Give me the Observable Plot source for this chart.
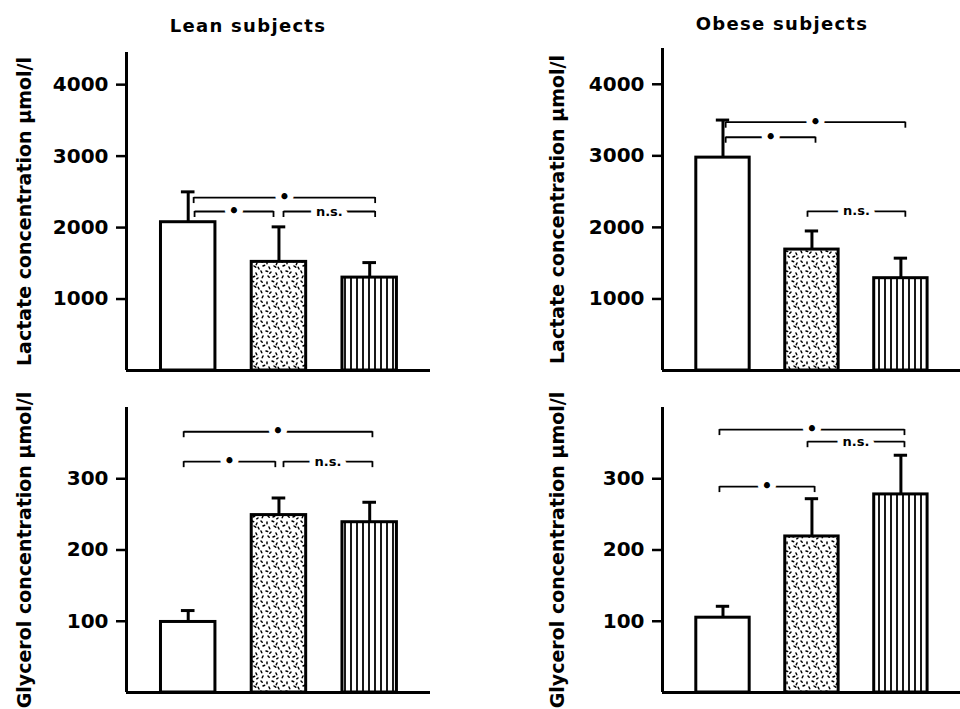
<!DOCTYPE html>
<html>
<head>
<meta charset="utf-8">
<script src="https://cdn.jsdelivr.net/npm/d3@7"></script>
<script src="https://cdn.jsdelivr.net/npm/@observablehq/plot@0.6"></script>
<style>
  html, body { margin: 0; padding: 0; background: #fff; }
  #root { position: relative; width: 960px; height: 709px; overflow: hidden; font-family: "DejaVu Sans", sans-serif; }
  .panel { position: absolute; }
  .title { position: absolute; width: 300px; text-align: center; font: bold 18px "DejaVu Sans", sans-serif; line-height: 18px; letter-spacing: 1.3px; color: #000; }
</style>
</head>
<body>
<svg width="0" height="0" style="position:absolute">
  <defs>
    <pattern id="stripes" patternUnits="userSpaceOnUse" width="6" height="10">
      <rect width="6" height="10" fill="white"/>
      <line x1="3" y1="-1" x2="3" y2="11" stroke="black" stroke-width="1.8"/>
    </pattern>
    <pattern id="speckle" patternUnits="userSpaceOnUse" width="20" height="20">
      <rect width="20" height="20" fill="white"/>
      <path d="M1 1l1.2 1.2M7 2l0 1.7M12 1l1.7 0.8M17 3l-0.8 1.7M3 6l1.7 -0.8M9 7l0.8 1.7M14 6l1.7 1.2M19 9l-0.8 -1.7M1 11l0.8 1.7M6 11l1.7 0.4M11 12l-1.2 1.2M16 13l0.8 1.7M3 16l-0.8 1.7M8 16l1.2 1.2M13 17l1.7 -0.8M18 18l-1.2 0.8"
            stroke="black" stroke-width="1.5" stroke-linecap="round" fill="none"/>
    </pattern>
  </defs>
</svg>
<div id="root">
  <div class="title" style="left:98px; top:17px;">Lean subjects</div>
  <div class="title" style="left:632px; top:15px;">Obese subjects</div>
</div>
<script>
// ---- data ----
const conditions = [1, 2, 3];
const leanLactateMean = [2075, 1520, 1300];
const leanLactateErr = [2500, 2010, 1510];
const obeseLactateMean = [2975, 1690, 1290];
const obeseLactateErr = [3500, 1950, 1570];
const leanGlycerolMean = [99, 249, 239];
const leanGlycerolErr = [115, 273, 267];
const obeseGlycerolMean = [105, 219, 278];
const obeseGlycerolErr = [121, 272, 333];
const lactateTicks = [1000, 2000, 3000, 4000];
const glycerolTicks = [100, 200, 300];
const titles = ["Lean subjects", "Obese subjects"];
const lactateLabel = "Lactate concentration µmol/l";
const glycerolLabel = "Glycerol concentration µmol/l";
// significance brackets: [from condition, to condition, level, label]
const leanLactateBrackets = [[1.07, 1.94, 2225, "•"], [2.05, 3.06, 2225, "n.s."], [1.06, 3.06, 2420, "•"]];
const obeseLactateBrackets = [[1.95, 3.05, 2225, "n.s."], [1.03, 2.04, 3260, "•"], [1.03, 3.05, 3470, "•"]];
const leanGlycerolBrackets = [[0.95, 1.96, 324, "•"], [2.05, 3.03, 324, "n.s."], [0.95, 3.03, 366, "•"]];
const obeseGlycerolBrackets = [[0.96, 2.03, 289, "•"], [1.95, 3.04, 352, "n.s."], [0.96, 3.04, 369, "•"]];

// ---- styles ----
const barFills = ["white", "url(#speckle)", "url(#stripes)"];
const xDomain = [0.32, 3.67];

function panel(cfg) {
  const rows = conditions.map((c, i) => ({x: c, mean: cfg.mean[i], err: cfg.err[i], fill: barFills[i]}));
  const plotH = cfg.height - cfg.marginTop - cfg.marginBottom;
  const drop = 6 * cfg.yMax / plotH;
  const marks = [];
  marks.push(Plot.axisY({ticks: cfg.ticks, tickFormat: d => String(d), tickSize: 10, tickPadding: 8, strokeWidth: 2.5, fontSize: 20, fontWeight: "bold", label: null}));
  marks.push(Plot.text([cfg.ylabel], {text: d => d, frameAnchor: "left", textAnchor: "middle", rotate: -90, dx: cfg.labelDx, fontSize: 19, fontWeight: "bold", fill: "black"}));
  marks.push(Plot.ruleX(rows, {x: "x", y1: "mean", y2: "err", strokeWidth: 3}));
  marks.push(Plot.ruleY(rows, {y: "err", x1: d => d.x - 0.075, x2: d => d.x + 0.075, strokeWidth: 3}));
  rows.forEach(r => marks.push(Plot.rect([r], {x1: d => d.x - 0.3, x2: d => d.x + 0.3, y1: () => 0, y2: "mean", fill: r.fill, stroke: "black", strokeWidth: 3})));
  marks.push(Plot.ruleX([xDomain[0]], {strokeWidth: 3}));
  marks.push(Plot.ruleY([0], {strokeWidth: 3}));
  cfg.brackets.forEach(([a, b, lev, lab]) => {
    const seg = [{a, b, lev}];
    marks.push(Plot.link(seg, {x1: "a", x2: "b", y1: "lev", y2: "lev", strokeWidth: 1.8}));
    marks.push(Plot.ruleX([a, b], {x: d => d, y1: () => lev, y2: () => lev - drop, strokeWidth: 1.8}));
    marks.push(Plot.text(seg, {x: d => (d.a + d.b) / 2, y: "lev", text: () => lab, fontSize: lab === "n.s." ? 13 : 17, fontWeight: "bold", fill: "black", stroke: "white", strokeWidth: 12, paintOrder: "stroke"}));
  });
  return Plot.plot({
    width: cfg.width, height: cfg.height,
    marginLeft: cfg.marginLeft, marginRight: cfg.marginRight, marginTop: cfg.marginTop, marginBottom: cfg.marginBottom,
    x: {domain: xDomain, axis: null},
    y: {domain: [0, cfg.yMax], axis: null},
    style: {background: "transparent", fontFamily: "DejaVu Sans, sans-serif", color: "black", overflow: "visible"},
    marks
  });
}

const configs = [
  {left: 0, top: 0, width: 480, height: 380, marginLeft: 126, marginRight: 50, marginTop: 52, marginBottom: 10, yMax: 4450, ticks: lactateTicks, ylabel: lactateLabel, labelDx: -102, mean: leanLactateMean, err: leanLactateErr, brackets: leanLactateBrackets},
  {left: 480, top: 0, width: 480, height: 380, marginLeft: 182, marginRight: 0, marginTop: 48, marginBottom: 10, yMax: 4500, ticks: lactateTicks, ylabel: lactateLabel, labelDx: -105, mean: obeseLactateMean, err: obeseLactateErr, brackets: obeseLactateBrackets},
  {left: 0, top: 380, width: 480, height: 329, marginLeft: 126, marginRight: 50, marginTop: 27, marginBottom: 17, yMax: 400, ticks: glycerolTicks, ylabel: glycerolLabel, labelDx: -102, mean: leanGlycerolMean, err: leanGlycerolErr, brackets: leanGlycerolBrackets},
  {left: 480, top: 380, width: 480, height: 329, marginLeft: 182, marginRight: 0, marginTop: 27, marginBottom: 17, yMax: 400, ticks: glycerolTicks, ylabel: glycerolLabel, labelDx: -105, mean: obeseGlycerolMean, err: obeseGlycerolErr, brackets: obeseGlycerolBrackets}
];

const root = document.getElementById("root");
configs.forEach(cfg => {
  const div = document.createElement("div");
  div.className = "panel";
  div.style.left = cfg.left + "px";
  div.style.top = cfg.top + "px";
  div.appendChild(panel(cfg));
  root.appendChild(div);
});
</script>
</body>
</html>
